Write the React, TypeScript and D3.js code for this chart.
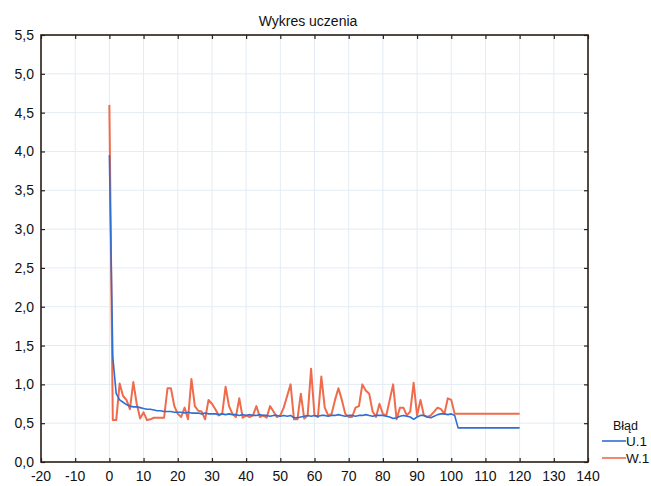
import { useEffect, useRef } from "react";
import * as d3 from "d3";

// training curve, epochs 0..120
const epochs: number[] = d3.range(0, 121);

const errTrain: number[] = [
  3.95, 1.35, 0.88, 0.8, 0.77, 0.74, 0.72, 0.71, 0.71, 0.7,
  0.69, 0.68, 0.68, 0.67, 0.66, 0.66, 0.65, 0.65, 0.65, 0.64,
  0.64, 0.64, 0.63, 0.64, 0.63, 0.63, 0.63, 0.62, 0.63, 0.62,
  0.62, 0.62, 0.61, 0.62, 0.61, 0.62, 0.61, 0.61, 0.6, 0.61,
  0.6, 0.61, 0.6, 0.6, 0.61, 0.6, 0.6, 0.59, 0.6, 0.6,
  0.59, 0.6, 0.59, 0.6, 0.57, 0.57, 0.58, 0.59, 0.6, 0.59,
  0.6, 0.59, 0.6, 0.6, 0.59, 0.6, 0.6, 0.61, 0.6, 0.59,
  0.6, 0.6, 0.59, 0.6, 0.6, 0.61, 0.6, 0.59, 0.6, 0.6,
  0.6, 0.59, 0.58, 0.56, 0.57, 0.59, 0.6, 0.59, 0.58, 0.55,
  0.58, 0.6, 0.6, 0.58, 0.57, 0.59, 0.61, 0.62, 0.62, 0.61,
  0.62, 0.6, 0.44, 0.44, 0.44, 0.44, 0.44, 0.44, 0.44, 0.44,
  0.44, 0.44, 0.44, 0.44, 0.44, 0.44, 0.44, 0.44, 0.44, 0.44,
  0.44,
];

const errValid: number[] = [
  4.6, 0.54, 0.54, 1.01, 0.85, 0.8, 0.68, 1.03, 0.75, 0.56,
  0.64, 0.54, 0.55, 0.57, 0.57, 0.57, 0.57, 0.95, 0.95, 0.72,
  0.62, 0.58, 0.7, 0.55, 1.07, 0.72, 0.66, 0.65, 0.55, 0.8,
  0.75, 0.68, 0.6, 0.62, 0.97, 0.72, 0.62, 0.58, 0.82, 0.57,
  0.6, 0.58, 0.6, 0.72, 0.58, 0.6, 0.57, 0.72, 0.65, 0.58,
  0.6, 0.7, 0.85, 1.0, 0.55, 0.55, 0.88, 0.56, 0.6, 1.2,
  0.6, 0.58, 1.1, 0.7, 0.6, 0.62, 0.8, 0.95, 0.8, 0.62,
  0.58, 0.58, 0.7, 0.72, 1.0, 0.92, 0.88, 0.65, 0.58, 0.75,
  0.62, 0.6, 0.8, 1.0, 0.55, 0.7, 0.7, 0.6, 0.65, 1.02,
  0.6, 0.8, 0.6, 0.58, 0.6, 0.65, 0.7, 0.68, 0.62, 0.82,
  0.8, 0.62, 0.62, 0.62, 0.62, 0.62, 0.62, 0.62, 0.62, 0.62,
  0.62, 0.62, 0.62, 0.62, 0.62, 0.62, 0.62, 0.62, 0.62, 0.62,
  0.62,
];

const xTicks: number[] = [-20, -10, 0, 10, 20, 30, 40, 50, 60, 70, 80, 90, 100, 110, 120, 130, 140];
const yTicks: number[] = [0, 0.5, 1, 1.5, 2, 2.5, 3, 3.5, 4, 4.5, 5, 5.5];
const seriesNames: string[] = ["U.1", "W.1"];
const seriesColors: string[] = ["#2f6fd3", "#ef6b4b"];

const W = 651;
const H = 486;
const margin = { left: 41, right: 63, top: 35, bottom: 24 };

export default function App() {
  const ref = useRef(null);

  useEffect(() => {
    draw();
  });

  function draw() {
    const svg = d3.select(ref.current);
    svg.selectAll("*").remove();

    const width = W - margin.left - margin.right;
    const height = H - margin.top - margin.bottom;
    const font = "'Liberation Sans', Arial, sans-serif";

    svg
      .append("rect")
      .attr("width", W)
      .attr("height", H)
      .attr("fill", "#ffffff");

    const plot = svg
      .append("g")
      .attr("transform", "translate(" + margin.left + "," + margin.top + ")");

    const x = d3.scaleLinear().domain([-20, 140]).range([0, width]);
    const y = d3.scaleLinear().domain([0, 5.5]).range([height, 0]);

    // grid
    plot
      .selectAll(".gx")
      .data(xTicks)
      .enter()
      .append("line")
      .attr("x1", (d) => x(d))
      .attr("x2", (d) => x(d))
      .attr("y1", 0)
      .attr("y2", height)
      .attr("stroke", "#e3ecf4")
      .attr("stroke-width", 1);
    plot
      .selectAll(".gy")
      .data(yTicks)
      .enter()
      .append("line")
      .attr("x1", 0)
      .attr("x2", width)
      .attr("y1", (d) => y(d))
      .attr("y2", (d) => y(d))
      .attr("stroke", "#e3ecf4")
      .attr("stroke-width", 1);

    // series
    const lineOf = (vals: number[]) =>
      d3
        .line<number>()
        .x((d, i) => x(epochs[i]))
        .y((d) => y(d))(vals);

    plot
      .append("path")
      .attr("d", lineOf(errValid))
      .attr("fill", "none")
      .attr("stroke", seriesColors[1])
      .attr("stroke-width", 2)
      .attr("stroke-linejoin", "round");
    plot
      .append("path")
      .attr("d", lineOf(errTrain))
      .attr("fill", "none")
      .attr("stroke", seriesColors[0])
      .attr("stroke-width", 1.6)
      .attr("stroke-linejoin", "round");

    // inner ticks on all four sides
    const tickColor = "#2a2018";
    const axB = d3.axisBottom(x).tickValues(xTicks).tickSize(-4).tickFormat(() => "");
    const axT = d3.axisTop(x).tickValues(xTicks).tickSize(-4).tickFormat(() => "");
    const axL = d3.axisLeft(y).tickValues(yTicks).tickSize(-4).tickFormat(() => "");
    const axR = d3.axisRight(y).tickValues(yTicks).tickSize(-4).tickFormat(() => "");
    [
      plot.append("g").attr("transform", "translate(0," + height + ")").call(axB),
      plot.append("g").call(axT),
      plot.append("g").call(axL),
      plot.append("g").attr("transform", "translate(" + width + ",0)").call(axR),
    ].forEach((g) => {
      g.select(".domain").remove();
      g.selectAll("line").attr("stroke", tickColor).attr("stroke-width", 1.2);
    });

    // frame
    plot
      .append("rect")
      .attr("width", width)
      .attr("height", height)
      .attr("fill", "none")
      .attr("stroke", tickColor)
      .attr("stroke-width", 1.6);

    // tick labels
    plot
      .selectAll(".xl")
      .data(xTicks)
      .enter()
      .append("text")
      .attr("x", (d) => x(d))
      .attr("y", height + 19)
      .attr("text-anchor", "middle")
      .style("font-family", font)
      .style("font-size", "14px")
      .attr("fill", "#111")
      .text((d) => String(d));
    plot
      .selectAll(".yl")
      .data(yTicks)
      .enter()
      .append("text")
      .attr("x", -7)
      .attr("y", (d) => y(d) + 5)
      .attr("text-anchor", "end")
      .style("font-family", font)
      .style("font-size", "14px")
      .attr("fill", "#111")
      .text((d) => d.toFixed(1).replace(".", ","));

    // title
    svg
      .append("text")
      .attr("x", 308)
      .attr("y", 26)
      .attr("text-anchor", "middle")
      .style("font-family", font)
      .style("font-size", "14px")
      .attr("fill", "#111")
      .text("Wykres uczenia");

    // legend
    const lg = svg.append("g").attr("transform", "translate(602,427)");
    lg.append("text")
      .attr("x", 11)
      .attr("y", 3)
      .style("font-family", font)
      .style("font-size", "12.5px")
      .attr("fill", "#111")
      .text("Błąd");
    seriesNames.forEach((name, i) => {
      const yy = 14 + i * 17;
      lg.append("line")
        .attr("x1", 0)
        .attr("x2", 24)
        .attr("y1", yy)
        .attr("y2", yy)
        .attr("stroke", seriesColors[i])
        .attr("stroke-width", 1.6);
      lg.append("text")
        .attr("x", 24)
        .attr("y", yy + 5)
        .style("font-family", font)
        .style("font-size", "13.5px")
        .attr("fill", "#111")
        .text(name);
    });
  }

  return (
    <svg
      ref={ref}
      width={W}
      height={H}
      style={{ position: "absolute", left: 0, top: 0 }}
    ></svg>
  );
}
